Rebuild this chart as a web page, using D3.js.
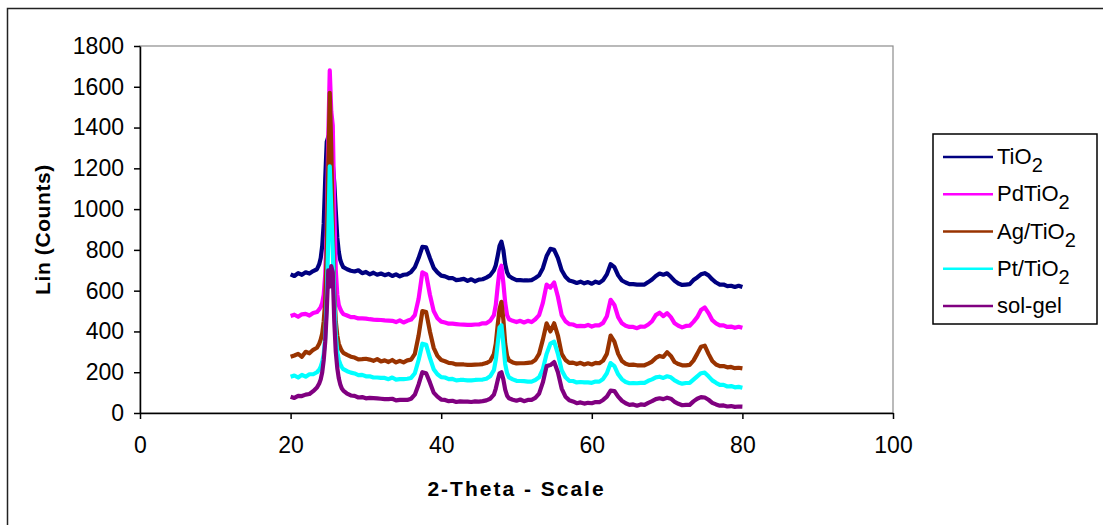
<!DOCTYPE html>
<html>
<head>
<meta charset="utf-8">
<script src="https://cdn.jsdelivr.net/npm/d3@7"></script>
<style>
    body { margin: 0; background: #fff; }
    svg { display: block; font-family: "Liberation Sans", Arial, sans-serif; }
    .axis text { font-size: 23px; fill: #000; }
    .axis path, .axis line { stroke: #000; stroke-width: 1.5; }
    .label { font-weight: bold; font-size: 21px; fill: #000; }
    .legend text { font-size: 22px; fill: #000; }
</style>
</head>
<body>
<div id="chart"></div>
<script>
// 2-theta positions (finer around the sharp peaks)
let twoTheta = [
    20, 20.5, 21, 21.5, 22, 22.5, 23, 23.5,
    23.8, 24, 24.2, 24.4, 24.6, 24.8, 25, 25.2, 25.4, 25.6, 25.8, 26, 26.2, 26.4, 26.6, 26.8, 27,
    27.5, 28, 28.5, 29, 29.5, 30, 30.5, 31, 31.5, 32,
    32.5, 33, 33.5, 34, 34.5, 35, 35.5, 36, 36.5, 37,
    37.5, 38, 38.5, 39, 39.5, 40, 40.5, 41, 41.5, 42,
    42.5, 43, 43.5, 44, 44.5, 45, 45.5, 46, 46.5, 47,
    47.25, 47.5, 47.75, 48, 48.25, 48.5, 48.75, 49,
    49.5, 50, 50.5, 51, 51.5, 52, 52.5, 53, 53.5, 54,
    54.5, 55, 55.5, 56, 56.5, 57, 57.5, 58, 58.5, 59,
    59.5, 60, 60.5, 61, 61.5, 62, 62.5, 63, 63.5, 64,
    64.5, 65, 65.5, 66, 66.5, 67, 67.5, 68, 68.5, 69,
    69.5, 70, 70.5, 71, 71.5, 72, 72.5, 73, 73.5, 74,
    74.5, 75, 75.5, 76, 76.5, 77, 77.5, 78, 78.5, 79, 79.5, 80
];

let tio2 = [
    680, 672, 686, 678, 690, 684, 696, 705,
    730, 760, 820, 930, 1150, 1330, 1355, 1340, 1290, 1220, 1130, 990, 860, 790, 750, 730, 715,
    705, 698, 694, 700, 686, 692, 680, 688, 678, 684,
    676, 682, 672, 680, 670, 678, 680, 692, 715, 760,
    815, 812, 760, 712, 690, 674, 670, 662, 662, 652,
    654, 658, 648, 656, 646, 654, 656, 664, 675, 700,
    725, 770, 820, 840, 800, 730, 690, 672,
    660, 652, 652, 650, 650, 652, 662, 675, 710, 770,
    805, 800, 760, 700, 668, 650, 645, 638, 644, 636,
    642, 634, 644, 638, 652, 680, 730, 715, 675, 650,
    640, 632, 632, 630, 630, 630, 642, 655, 672, 684,
    678, 685, 668, 648, 635, 628, 630, 632, 652, 665,
    680, 686, 675, 655, 640, 630, 630, 622, 624, 618, 624, 618
];

let pdTio2 = [
    476, 482, 472, 484, 486, 478, 490, 495,
    508, 520, 540, 580, 680, 900, 1350, 1680, 1480, 1410, 1000, 700, 580, 530, 510, 495, 485,
    478, 470, 470, 464, 464, 463, 460, 458, 457, 456,
    454, 453, 452, 446, 454, 444, 452, 458, 480, 560,
    690, 680, 580, 500, 465, 448, 444, 438, 438, 436,
    434, 433, 432, 432, 434, 434, 440, 440, 452, 480,
    530, 620, 700, 722, 640, 540, 480, 460,
    452, 446, 452, 444, 452, 446, 460, 480, 540, 630,
    615, 640, 570, 480, 450, 436, 434, 426, 427, 426,
    432, 424, 430, 430, 442, 475, 555, 530, 470, 440,
    428, 422, 422, 416, 424, 423, 434, 450, 480, 492,
    475, 490, 470, 440, 428, 420, 427, 428, 447, 470,
    505, 518, 490, 455, 440, 430, 430, 422, 424, 418, 423, 418
];

let agTio2 = [
    276, 282, 290, 276, 300, 293, 310, 320,
    340, 360, 390, 450, 550, 800, 1200, 1570, 1300, 900, 600, 450, 380, 340, 320, 305, 295,
    285, 276, 272, 263, 264, 266, 262, 256, 264, 253,
    258, 250, 260, 248, 256, 248, 258, 262, 290, 380,
    500, 495, 400, 320, 280, 260, 254, 246, 244, 238,
    238, 238, 236, 236, 237, 238, 240, 245, 255, 290,
    340, 430, 510, 545, 460, 340, 280, 258,
    248, 243, 244, 244, 246, 248, 260, 290, 360, 440,
    400, 440, 380, 290, 260, 246, 247, 240, 246, 238,
    244, 238, 246, 244, 257, 290, 380, 350, 290, 255,
    242, 236, 237, 234, 234, 234, 242, 252, 270, 280,
    275, 298, 280, 250, 240, 234, 234, 236, 257, 290,
    325, 330, 290, 255, 238, 230, 230, 224, 226, 220, 222, 219
];

let ptTio2 = [
    178, 184, 174, 187, 178, 190, 190, 200,
    212, 228, 250, 290, 370, 550, 850, 1210, 1000, 800, 550, 380, 300, 260, 240, 225, 215,
    205, 198, 194, 186, 187, 180, 180, 174, 174, 172,
    172, 166, 174, 164, 166, 166, 168, 172, 195, 260,
    340, 335, 270, 215, 190, 176, 174, 166, 167, 160,
    162, 162, 160, 160, 162, 163, 164, 168, 180, 210,
    260, 340, 420, 430, 340, 240, 195, 175,
    165, 158, 157, 156, 154, 154, 162, 175, 215, 290,
    340, 350, 290, 210, 175, 158, 157, 150, 152, 150,
    150, 148, 154, 154, 167, 195, 245, 230, 190, 165,
    152, 146, 147, 146, 148, 148, 158, 165, 175, 178,
    172, 180, 175, 160, 150, 144, 147, 148, 164, 180,
    195, 198, 180, 160, 148, 138, 138, 130, 132, 126, 128, 124
];

let solGel = [
    80, 74, 84, 83, 90, 93, 107, 125,
    145, 165, 200, 260, 350, 500, 700, 620, 720, 690, 450, 300, 220, 170, 140, 120, 110,
    95, 86, 84, 76, 78, 72, 74, 73, 72, 70,
    68, 68, 70, 62, 64, 64, 64, 70, 90, 140,
    200, 195, 150, 100, 80, 66, 64, 58, 60, 54,
    57, 56, 56, 54, 57, 56, 58, 62, 70, 90,
    120, 160, 195, 200, 165, 115, 85, 72,
    65, 60, 66, 58, 64, 64, 74, 95, 150, 230,
    235, 250, 200, 120, 80, 63, 57, 48, 52, 46,
    50, 48, 54, 53, 64, 80, 110, 108, 80, 60,
    48, 40, 42, 36, 42, 40, 50, 58, 68, 72,
    68, 75, 70, 55, 45, 38, 40, 40, 57, 70,
    78, 76, 65, 50, 42, 36, 37, 32, 34, 30, 32, 31
];

let legendNames = ["TiO", "PdTiO", "Ag/TiO", "Pt/TiO", "sol-gel"];
let legendSubs = ["2", "2", "2", "2", ""];
let colors = ["#000080", "#ff00ff", "#993300", "#00ffff", "#800080"];
let xTicks = [0, 20, 40, 60, 80, 100];
let yTicks = [0, 200, 400, 600, 800, 1000, 1200, 1400, 1600, 1800];

let seriesValues = [tio2, pdTio2, agTio2, ptTio2, solGel];

let margin = {top: 46, right: 210, left: 140, bottom: 112};
let width = 1103 - margin.left - margin.right;
let height = 525 - margin.top - margin.bottom;

let svg = d3.select("#chart")
    .append("svg")
    .attr("width", 1103)
    .attr("height", 525);

svg.append("rect")
    .attr("width", 1103)
    .attr("height", 525)
    .attr("fill", "#fff");

// outer chart border (right and bottom run off the picture)
svg.append("rect")
    .attr("x", 7.5)
    .attr("y", 8.5)
    .attr("width", 1200)
    .attr("height", 600)
    .attr("fill", "none")
    .attr("stroke", "#222")
    .attr("stroke-width", 1.5);

let chart = svg.append("g")
    .attr("transform", "translate(" + margin.left + ", " + margin.top + ")");

let x = d3.scaleLinear()
    .domain([0, 100])
    .range([0, width]);

let y = d3.scaleLinear()
    .domain([0, 1800])
    .range([height, 0]);

// plot area border
chart.append("rect")
    .attr("x", 0)
    .attr("y", 0)
    .attr("width", width)
    .attr("height", height)
    .attr("fill", "none")
    .attr("stroke", "#8c8c8c")
    .attr("stroke-width", 1.2);

let line = d3.line()
    .x((d, i) => x(twoTheta[i]))
    .y((d) => y(d));

chart.selectAll(".series")
    .data(seriesValues)
    .enter()
    .append("path")
    .attr("class", "series")
    .attr("d", (d) => line(d))
    .attr("fill", "none")
    .attr("stroke", (d, i) => colors[i])
    .attr("stroke-width", 4.2)
    .attr("stroke-linejoin", "round");

let xAxis = d3.axisBottom(x).tickValues(xTicks).tickSize(6).tickSizeOuter(0).tickPadding(18);
let yAxis = d3.axisLeft(y).tickValues(yTicks).tickFormat(d3.format("d"))
    .tickSize(6).tickSizeOuter(0).tickPadding(10);

chart.append("g")
    .attr("class", "axis")
    .attr("transform", "translate(0," + height + ")")
    .call(xAxis);

chart.append("g")
    .attr("class", "axis")
    .call(yAxis);

chart.append("text")
    .attr("class", "label")
    .attr("x", width / 2)
    .attr("y", height + 83)
    .attr("text-anchor", "middle")
    .attr("letter-spacing", "2px")
    .text("2-Theta - Scale");

chart.append("text")
    .attr("class", "label")
    .attr("transform", "translate(-90," + (height / 2) + ") rotate(-90)")
    .attr("text-anchor", "middle")
    .attr("letter-spacing", "0.6px")
    .text("Lin (Counts)");

// legend
let legend = svg.append("g")
    .attr("class", "legend")
    .attr("transform", "translate(933, 134)");

legend.append("rect")
    .attr("width", 164)
    .attr("height", 190)
    .attr("fill", "#fff")
    .attr("stroke", "#000")
    .attr("stroke-width", 1.5);

let items = legend.selectAll(".item")
    .data(legendNames)
    .enter()
    .append("g")
    .attr("class", "item")
    .attr("transform", (d, i) => "translate(0," + (23 + i * 37.25) + ")");

items.append("line")
    .attr("x1", 10)
    .attr("x2", 60)
    .attr("stroke", (d, i) => colors[i])
    .attr("stroke-width", 2.5);

let labels = items.append("text")
    .attr("x", 64)
    .attr("y", 7);

labels.append("tspan")
    .text((d) => d);

labels.append("tspan")
    .attr("dy", 8)
    .attr("font-size", "20px")
    .text((d, i) => legendSubs[i]);
</script>
</body>
</html>
